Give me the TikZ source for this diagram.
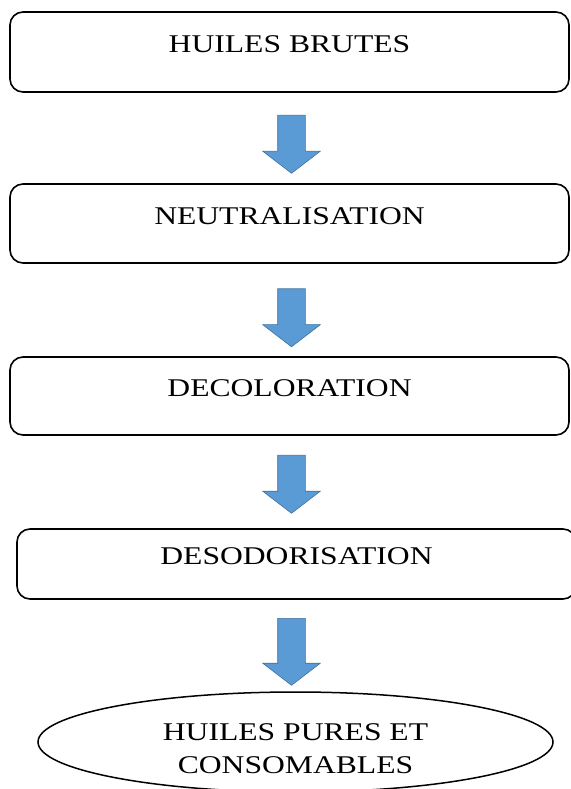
\documentclass[tikz,border=0pt]{standalone}
\usepackage{fontspec}
\setmainfont{Liberation Serif}
\usetikzlibrary{shapes,arrows}
\definecolor{arrowblue}{HTML}{5B9BD5}
\definecolor{arrowedge}{HTML}{41719C}
\newcommand{\wide}[1]{\scalebox{1.24}[1]{#1}}

\begin{document}
\begin{tikzpicture}[x=1pt,y=-1pt]
            \tikzstyle{stage} = [rectangle, rounded corners=13pt, draw=black, line width=1.6pt, minimum width=559pt, inner sep=0pt, text height=17pt, text depth=16pt, font=\fontsize{25.5}{33}\selectfont]
            \tikzstyle{final} = [ellipse, draw=black, line width=1.5pt, minimum width=515pt, minimum height=100pt, inner sep=0pt, align=center, text height=63pt, font=\fontsize{25.5}{33}\selectfont]
            \tikzstyle{blockarrow} = [single arrow, shape border rotate=270, fill=arrowblue, draw=arrowedge, line width=0.6pt, single arrow head extend=15pt, single arrow tip angle=105, inner sep=13.5pt, minimum height=58pt]

            \useasboundingbox (0,0) rectangle (570,789);

            % Stages
            \node (brutes) [stage, minimum height=80pt] at (289.5,52) {\wide{HUILES BRUTES}};
            \node (neutral) [stage, minimum height=79pt] at (289.5,223.5) {\wide{NEUTRALISATION}};
            \node (decolor) [stage, minimum height=78pt] at (289.5,396) {\wide{DECOLORATION}};
            \node (desodor) [stage, minimum height=70pt] at (296.5,564) {\wide{DESODORISATION}};

            % Product
            \node (pures) [final] at (295.5,742) {\wide{HUILES PURES ET}\\\wide{CONSOMABLES}};

            % Arrows
            \node (arr1) [blockarrow] at (291.5,139) {};
            \node (arr2) [blockarrow] at (291.5,312.5) {};
            \node (arr3) [blockarrow] at (291.5,479) {};
            \node (arr4) [blockarrow, minimum height=67pt] at (291.5,646.5) {};
        \end{tikzpicture}
\end{document}
